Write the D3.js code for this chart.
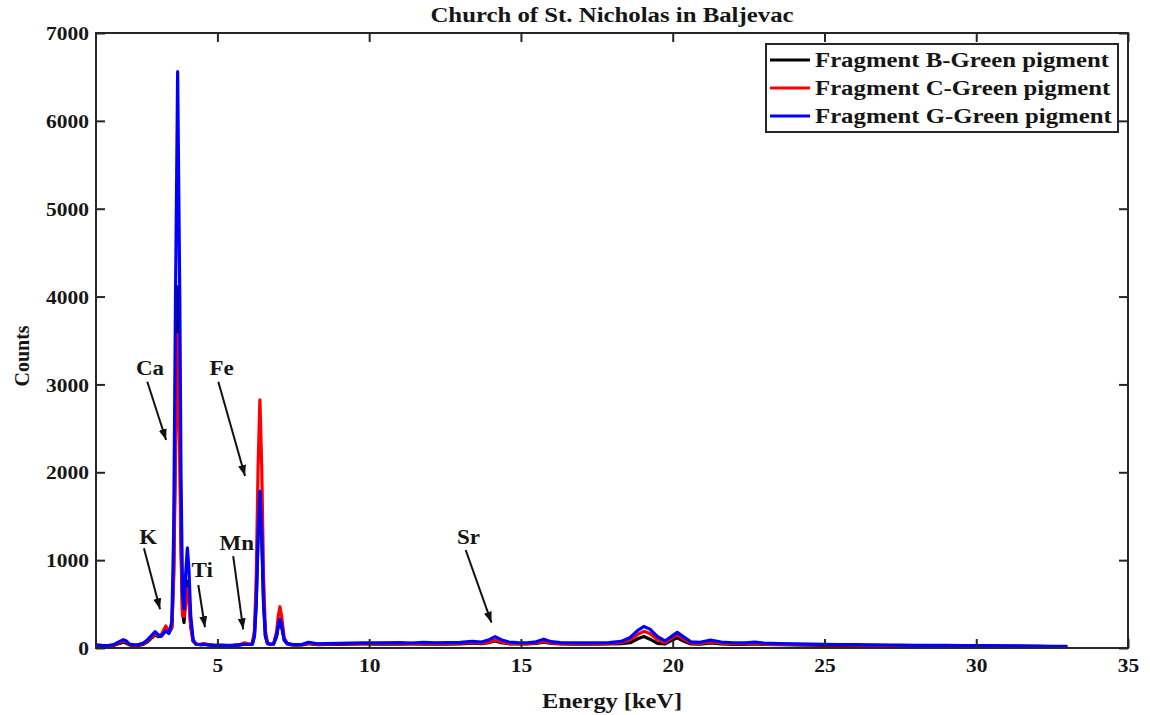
<!DOCTYPE html>
<html>
<head>
<meta charset="utf-8">
<script src="https://cdn.jsdelivr.net/npm/d3@7"></script>
<style>
  body { margin: 0; background: #fff; }
  text { font-family: "Liberation Serif", "Times New Roman", serif; font-weight: bold; fill: #161616; }
</style>
</head>
<body>
<div id="chart"></div>
<script>
// energy axis (keV), shared by the three spectra
const energy = [
  1.0, 1.2, 1.4, 1.6, 1.75, 1.9, 2.0, 2.1, 2.25, 2.4,
  2.55, 2.7, 2.85, 2.95, 3.05, 3.15, 3.3, 3.4, 3.5, 3.56,
  3.62, 3.66, 3.69, 3.72, 3.76, 3.8, 3.85, 3.9, 3.95, 4.01,
  4.06, 4.12, 4.2, 4.3, 4.45, 4.55, 4.7, 4.9, 5.1, 5.3,
  5.5, 5.7, 5.9, 6.05, 6.15, 6.22, 6.28, 6.34, 6.4, 6.46,
  6.52, 6.58, 6.65, 6.75, 6.85, 6.95, 7.0, 7.06, 7.12, 7.2,
  7.3, 7.45, 7.6, 7.8, 8.0, 8.3, 8.6, 9.0, 9.4, 9.8,
  10.2, 10.6, 11.0, 11.4, 11.8, 12.2, 12.6, 13.0, 13.4, 13.7,
  13.95, 14.15, 14.35, 14.6, 14.9, 15.2, 15.5, 15.75, 16.0, 16.3,
  16.7, 17.1, 17.5, 17.9, 18.3, 18.6, 18.85, 19.05, 19.25, 19.5,
  19.75, 19.95, 20.15, 20.35, 20.6, 20.9, 21.25, 21.6, 22.0, 22.4,
  22.7, 23.0, 23.5, 24.0, 24.5, 25.0, 25.5, 26.0, 26.5, 27.0,
  27.5, 28.0, 28.5, 29.0, 29.5, 30.0, 30.5, 31.0, 31.5, 32.0,
  32.5, 33.0
];

const countsB = [
  28, 25, 22, 30, 50, 65, 55, 35, 28, 30,
  40, 70, 120, 150, 130, 135, 220, 170, 230, 890,
  2510, 3410, 4110, 3410, 2510, 1250, 410, 290, 550, 760,
  600, 260, 80, 40, 40, 45, 35, 28, 28, 26,
  28, 32, 45, 40, 42, 135, 510, 1270, 1730, 1270,
  510, 135, 50, 40, 44, 130, 235, 305, 235, 88,
  45, 35, 33, 36, 50, 38, 40, 42, 44, 46,
  45, 47, 44, 46, 45, 47, 45, 48, 55, 50,
  62, 80, 60, 48, 46, 46, 52, 65, 52, 46,
  45, 44, 45, 47, 50, 60, 105, 130, 100, 52,
  48, 85, 115, 80, 46, 44, 58, 46, 42, 40,
  48, 40, 37, 35, 33, 31, 30, 28, 27, 26,
  25, 24, 23, 22, 21, 20, 19, 18, 17, 16,
  14, 12
];

const countsC = [
  30, 28, 25, 35, 60, 80, 70, 40, 30, 35,
  45, 80, 130, 160, 140, 150, 250, 190, 240, 790,
  2180, 2960, 3570, 2960, 2180, 1100, 370, 360, 490, 680,
  540, 240, 75, 40, 45, 50, 40, 30, 30, 28,
  30, 35, 60, 45, 50, 200, 815, 2060, 2825, 2060,
  815, 200, 55, 40, 45, 186, 352, 470, 352, 115,
  50, 38, 36, 40, 55, 42, 45, 46, 48, 50,
  50, 55, 48, 52, 50, 53, 50, 55, 62, 55,
  70, 90, 68, 52, 50, 50, 58, 75, 58, 50,
  50, 48, 50, 52, 60, 95, 155, 190, 165, 95,
  60, 110, 155, 105, 55, 52, 70, 55, 50, 48,
  55, 45, 42, 40, 38, 36, 34, 32, 30, 29,
  28, 27, 26, 25, 24, 23, 22, 21, 20, 19,
  17, 15
];

const countsG = [
  35, 30, 28, 40, 70, 95, 80, 45, 35, 40,
  55, 95, 150, 185, 150, 135, 195, 165, 300, 1330,
  4000, 5440, 6560, 5440, 4000, 1980, 625, 445, 817, 1140,
  900, 370, 90, 45, 35, 40, 35, 30, 32, 30,
  30, 35, 40, 40, 45, 142, 530, 1310, 1785, 1310,
  530, 142, 55, 45, 48, 142, 250, 327, 250, 96,
  52, 42, 40, 42, 65, 48, 50, 52, 55, 58,
  60, 58, 62, 57, 63, 60, 62, 65, 75, 68,
  95, 130, 95, 68, 62, 60, 70, 100, 72, 62,
  60, 58, 60, 62, 75, 120, 200, 245, 215, 130,
  80, 130, 178, 130, 70, 65, 90, 68, 60, 58,
  68, 55, 50, 48, 45, 42, 40, 38, 36, 34,
  33, 31, 30, 29, 28, 27, 26, 25, 24, 22,
  20, 18
];

const seriesNames = ["Fragment B-Green pigment", "Fragment C-Green pigment", "Fragment G-Green pigment"];
const seriesColors = ["#000000", "#ff0000", "#0000ff"];

const xTicks = [5, 10, 15, 20, 25, 30, 35];
const yTicks = [0, 1000, 2000, 3000, 4000, 5000, 6000, 7000];

// element labels: [label, text keV, text counts, arrow start keV, counts, arrow end keV, counts]
const peakLabels = [
  ["Ca", 2.78, 3187, 2.69, 3031, 3.31, 2367],
  ["Fe", 5.14, 3187, 5.03, 3031, 5.91, 1958],
  ["K", 2.72, 1267, 2.58, 1135, 3.11, 440],
  ["Ti", 4.50, 888, 4.37, 717, 4.59, 236],
  ["Mn", 5.64, 1192, 5.52, 1047, 5.85, 213],
  ["Sr", 13.27, 1267, 13.18, 1115, 14.03, 288]
];

const width = 1150, height = 715;
const margin = { left: 96, right: 22, top: 33, bottom: 67 };

const svg = d3.select("#chart").append("svg")
  .attr("width", width)
  .attr("height", height);

const x = d3.scaleLinear().domain([1, 35]).range([margin.left, width - margin.right]);
const y = d3.scaleLinear().domain([0, 7000]).range([height - margin.bottom, margin.top]);

// text in the original looks horizontally stretched
function stretch(sel, tx, ty, sx) {
  sel.attr("transform", `translate(${tx},${ty}) scale(${sx},1)`);
}

svg.append("defs").append("clipPath").attr("id", "plotclip")
  .append("rect")
  .attr("x", x.range()[0]).attr("y", y.range()[1])
  .attr("width", x.range()[1] - x.range()[0])
  .attr("height", y.range()[0] - y.range()[1]);

svg.select("defs").append("marker")
  .attr("id", "arrow")
  .attr("markerUnits", "userSpaceOnUse")
  .attr("markerWidth", 11).attr("markerHeight", 8)
  .attr("refX", 11).attr("refY", 4)
  .attr("orient", "auto")
  .append("path").attr("d", "M0,0 L11,4 L0,8 Z").attr("fill", "#111");

// spectra
const line = d3.line().x(d => x(d[0])).y(d => y(d[1]));
const allCounts = [countsB, countsC, countsG];
svg.append("g").attr("clip-path", "url(#plotclip)")
  .selectAll("path")
  .data(allCounts)
  .enter()
  .append("path")
  .attr("d", c => line(energy.map((e, i) => [e, c[i]])))
  .attr("fill", "none")
  .attr("stroke", (c, i) => seriesColors[i])
  .attr("stroke-width", 3.2)
  .attr("stroke-linejoin", "round");

// axes, MATLAB style: ticks inside on all four sides
const axisColor = "#262626";
const xAxis = svg.append("g")
  .attr("transform", `translate(0,${y.range()[0]})`)
  .call(d3.axisBottom(x).tickValues(xTicks).tickSizeInner(-9).tickSizeOuter(0).tickPadding(0));
xAxis.selectAll("text").attr("y", 0).attr("dy", 0).style("font-size", "19px")
  .each(function () { stretch(d3.select(this), 0, 24, 1.13); });

const yAxis = svg.append("g")
  .attr("transform", `translate(${x.range()[0]},0)`)
  .call(d3.axisLeft(y).tickValues(yTicks).tickFormat(d3.format("d")).tickSizeInner(-9).tickSizeOuter(0));
yAxis.selectAll("text").attr("x", 0).attr("dy", "0.35em").style("font-size", "19px")
  .each(function () { stretch(d3.select(this), -7, 0, 1.13); });

svg.append("g")
  .attr("transform", `translate(0,${y.range()[1]})`)
  .call(d3.axisTop(x).tickValues(xTicks).tickSizeInner(-9).tickSizeOuter(0).tickFormat(""));
svg.append("g")
  .attr("transform", `translate(${x.range()[1]},0)`)
  .call(d3.axisRight(y).tickValues(yTicks).tickSizeInner(-9).tickSizeOuter(0).tickFormat(""));

svg.selectAll(".domain").remove();
svg.selectAll(".tick line").attr("stroke", axisColor).attr("stroke-width", 2);

svg.append("rect")
  .attr("x", x.range()[0]).attr("y", y.range()[1])
  .attr("width", x.range()[1] - x.range()[0])
  .attr("height", y.range()[0] - y.range()[1])
  .attr("fill", "none")
  .attr("stroke", axisColor)
  .attr("stroke-width", 2);

// titles
svg.append("text").attr("text-anchor", "middle").style("font-size", "20px")
  .text("Church of St. Nicholas in Baljevac")
  .call(stretch, (x.range()[0] + x.range()[1]) / 2, 22, 1.24);

svg.append("text").attr("text-anchor", "middle").style("font-size", "20px")
  .text("Energy [keV]")
  .call(stretch, (x.range()[0] + x.range()[1]) / 2, 708, 1.22);

svg.append("text").attr("text-anchor", "middle").style("font-size", "20px")
  .text("Counts")
  .attr("transform", "translate(29,356) rotate(-90)");

// element annotations
const ann = svg.append("g");
ann.selectAll("line")
  .data(peakLabels)
  .enter()
  .append("line")
  .attr("x1", d => x(d[3])).attr("y1", d => y(d[4]))
  .attr("x2", d => x(d[5])).attr("y2", d => y(d[6]))
  .attr("stroke", "#111")
  .attr("stroke-width", 2)
  .attr("marker-end", "url(#arrow)");
ann.selectAll("text")
  .data(peakLabels)
  .enter()
  .append("text")
  .attr("text-anchor", "middle")
  .style("font-size", "20px")
  .text(d => d[0])
  .each(function (d) { stretch(d3.select(this), x(d[1]), y(d[2]) + 7, 1.15); });

// legend
const lg = svg.append("g").attr("transform", "translate(766,44)");
lg.append("rect")
  .attr("width", 352).attr("height", 88)
  .attr("fill", "#fff")
  .attr("stroke", axisColor)
  .attr("stroke-width", 2);
seriesNames.forEach((name, i) => {
  const row = lg.append("g").attr("transform", `translate(0,${16 + i * 28})`);
  row.append("line")
    .attr("x1", 4).attr("x2", 44)
    .attr("stroke", seriesColors[i])
    .attr("stroke-width", 3);
  row.append("text").style("font-size", "21px").text(name)
    .call(stretch, 49, 7, 1.18);
});
</script>
</body>
</html>
